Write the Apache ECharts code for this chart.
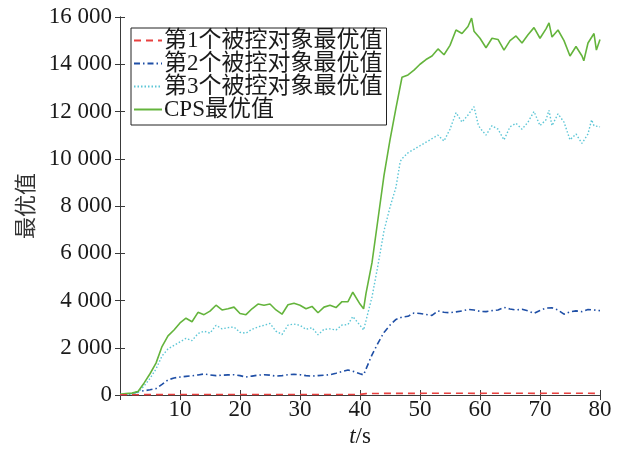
<!DOCTYPE html>
<html>
<head>
<meta charset="utf-8">
<script src="https://cdn.jsdelivr.net/npm/echarts@6/dist/echarts.min.js"></script>
<style>
  html, body { margin: 0; padding: 0; background: #fff; }
  #chart { width: 624px; height: 455px; }
</style>
</head>
<body>
<div id="chart"></div>
<script>
// Series names shown in the legend
const seriesNames = ['第1个被控对象最优值', '第2个被控对象最优值', '第3个被控对象最优值', 'CPS最优值'];

// Axis ticks
const xTicks = [0, 10, 20, 30, 40, 50, 60, 70, 80];
const yTicks = [0, 2000, 4000, 6000, 8000, 10000, 12000, 14000, 16000];

// Object 1 (near zero)
const obj1T = [0, 5, 10, 15, 20, 25, 30, 35, 40, 41, 45, 50, 55, 60, 65, 70, 75, 80];
const obj1V = [10, 15, 20, 20, 20, 20, 20, 20, 25, 60, 70, 70, 75, 70, 75, 70, 75, 70];

// Object 2
const obj2T = [0,1,2,3,4,5,6,7,8,9,10,11,12,13,14,15,16,17,18,19,20,21,22,23,24,25,26,27,28,29,30,31,32,33,34,35,36,37,38,39,40,40.6,41,42,43,44,45,46,47,48,49,50,51,52,53,54,55,56,57,58,59,60,61,62,63,64,65,66,67,68,69,70,71,72,73,74,75,76,77,78,79,80];
const obj2V = [10,30,60,140,180,220,270,450,640,720,760,790,810,850,890,850,820,840,850,860,820,760,800,840,860,840,800,820,860,880,860,820,800,820,840,860,920,990,1060,990,900,850,1100,1700,2200,2650,2960,3200,3300,3330,3470,3450,3410,3370,3560,3500,3480,3520,3560,3620,3600,3540,3530,3570,3600,3710,3640,3600,3630,3560,3460,3580,3680,3690,3600,3420,3520,3560,3530,3620,3600,3570];

// Object 3
const obj3T = [0,1,2,3,4,5,6,7,8,9,10,11,12,13,14,15,16,17,18,19,20,21,22,23,24,25,26,27,28,29,30,31,32,33,34,35,36,37,38,38.8,40,40.6,41,42,43,44,45,46,46.7,47,48,49,50,51,52,53,54,55,56,57,58,59,59.7,60,61,62,63,64,65,66,67,68,69,70,71,71.5,72,73,74,75,76,77,78,78.6,79,80];
const obj3V = [20,40,60,100,380,700,1100,1650,1950,2100,2250,2400,2300,2600,2700,2620,2950,2800,2850,2880,2650,2620,2780,2880,2950,3030,2700,2560,2960,3000,2950,2780,2850,2550,2780,2800,2750,2960,2980,3320,2950,2750,3150,4150,5500,6950,7950,8800,9880,10000,10250,10400,10550,10700,10850,11000,10750,11250,11950,11550,11850,12200,11450,11300,11000,11400,11250,10800,11350,11500,11250,11550,12000,11400,11650,12050,11400,11900,11550,10800,11050,10650,11050,11650,11400,11350];

// CPS total
const cpsT = [0,1,2,3,4,5,6,7,8,9,10,11,12,13,14,15,16,17,18,19,20,21,22,23,24,25,26,27,28,29,30,31,32,33,34,35,36,37,38,38.8,40,40.6,41,42,43,44,45,46,47,48,49,50,51,52,53,54,55,56,57,58,58.6,59,60,61,62,63,64,65,66,67,68,69,70,71,71.5,72,73,74,75,76,77,77.3,78,79,79.4,80];
const cpsV = [30,60,80,150,500,900,1350,2050,2500,2750,3050,3250,3100,3500,3400,3550,3800,3600,3650,3720,3450,3400,3650,3850,3800,3850,3600,3420,3820,3880,3800,3650,3750,3480,3720,3800,3700,3950,3950,4350,3850,3650,4300,5600,7450,9300,10800,12150,13450,13550,13750,14000,14200,14350,14650,14400,14800,15450,15300,15600,15950,15400,15100,14700,15100,15050,14600,15000,15200,14900,15250,15550,15100,15500,15750,15150,15450,15000,14350,14750,14350,14150,14900,15300,14600,15050];

const zip = (t, v) => t.map((x, i) => [x, v[i]]);

const serif = '"Liberation Serif", "Times New Roman", serif';
const cjk = '"Liberation Serif", "Noto Sans CJK SC", serif';
const axisColor = '#3a3a3a';

const spaced = v => String(v).replace(/\B(?=(\d{3})+(?!\d))/g, ' ');

const chart = echarts.init(document.getElementById('chart'), null, { renderer: 'canvas' });

const frameAxis = {
  min: 0,
  axisLine: { show: true, lineStyle: { color: axisColor, width: 1 } },
  axisTick: { show: true, inside: true, length: 5, lineStyle: { color: axisColor } },
  axisLabel: { show: false },
  splitLine: { show: false }
};

chart.setOption({
  animation: false,
  backgroundColor: '#fff',
  grid: { left: 120, right: 24, top: 17, bottom: 60, containLabel: false },
  legend: {
    orient: 'vertical',
    left: 131,
    top: 28,
    z: 10,
    padding: [1, 4, 4, 2],
    itemGap: 0,
    itemWidth: 28,
    itemHeight: 14,
    backgroundColor: '#fff',
    borderColor: '#222',
    borderWidth: 1,
    itemStyle: { opacity: 0 },
    textStyle: { fontFamily: cjk, fontSize: 23, color: '#1a1a1a', lineHeight: 22, padding: [0, 0, 0, -3] },
    data: seriesNames
  },
  xAxis: [{
    type: 'value',
    min: 0, max: 80, interval: 10,
    position: 'bottom',
    name: '{i|t}/s',
    nameLocation: 'middle',
    nameGap: 30,
    nameTextStyle: {
      fontFamily: serif, fontSize: 23, color: '#1a1a1a',
      rich: { i: { fontFamily: serif, fontSize: 23, fontStyle: 'italic', color: '#1a1a1a' } }
    },
    axisLine: { show: true, lineStyle: { color: axisColor, width: 1 } },
    axisTick: { show: true, inside: true, length: 5, lineStyle: { color: axisColor } },
    axisLabel: {
      margin: 3, fontFamily: serif, fontSize: 23, color: '#1a1a1a',
      formatter: v => (v === 0 ? '' : String(v))
    },
    splitLine: { show: false }
  }, Object.assign({ type: 'value', max: 80, interval: 10, position: 'top' }, frameAxis)],
  yAxis: [{
    type: 'value',
    min: yTicks[0], max: yTicks[yTicks.length - 1], interval: 2000,
    position: 'left',
    name: '最优值',
    nameLocation: 'middle',
    nameGap: 84,
    nameRotate: 90,
    nameTextStyle: { fontFamily: '"Noto Sans CJK SC", sans-serif', fontSize: 22, color: '#333' },
    axisLine: { show: true, lineStyle: { color: axisColor, width: 1 } },
    axisTick: { show: true, inside: true, length: 5, lineStyle: { color: axisColor } },
    axisLabel: { margin: 8, fontFamily: serif, fontSize: 23, color: '#1a1a1a', formatter: spaced },
    splitLine: { show: false }
  }, Object.assign({ type: 'value', max: 16000, interval: 2000, position: 'right' }, frameAxis)],
  series: [
    {
      name: seriesNames[0], type: 'line', symbol: 'none', z: 4,
      lineStyle: { color: '#e8403f', width: 1.6, type: [7, 5] },
      itemStyle: { color: '#e8403f' },
      data: zip(obj1T, obj1V)
    },
    {
      name: seriesNames[1], type: 'line', symbol: 'none', z: 3,
      lineStyle: { color: '#1f4fa6', width: 1.6, type: [6, 3, 1.5, 3] },
      itemStyle: { color: '#1f4fa6' },
      data: zip(obj2T, obj2V)
    },
    {
      name: seriesNames[2], type: 'line', symbol: 'none', z: 3,
      lineStyle: { color: '#5cc6d6', width: 1.4, type: [1.5, 2] },
      itemStyle: { color: '#5cc6d6' },
      data: zip(obj3T, obj3V)
    },
    {
      name: seriesNames[3], type: 'line', symbol: 'none', z: 3,
      lineStyle: { color: '#64b43c', width: 1.6 },
      itemStyle: { color: '#64b43c' },
      data: zip(cpsT, cpsV)
    }
  ]
});
</script>
</body>
</html>
